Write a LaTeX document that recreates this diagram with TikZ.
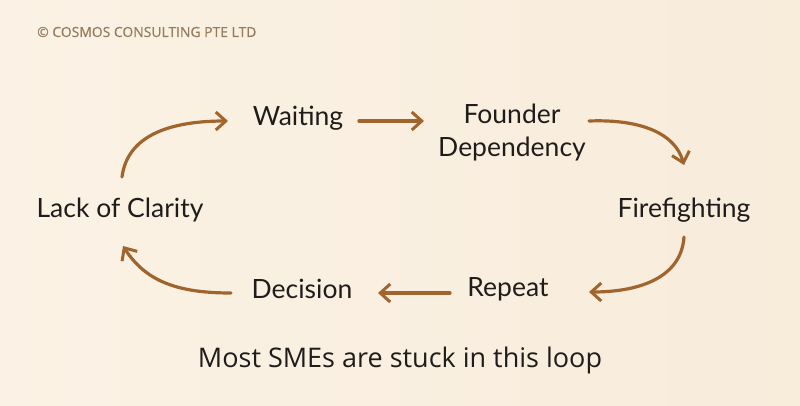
\documentclass[tikz,border=0pt]{standalone}
\usepackage{fontspec}
\setmainfont{Lato}
\newfontfamily\bottomfont{Open Sans}
\newfontfamily\headfont[FakeBold=0.6]{Open Sans}
\usetikzlibrary{arrows.meta}
\definecolor{bgA}{HTML}{FBF2E5}
\definecolor{bgB}{HTML}{F8ECDB}
\definecolor{arr}{HTML}{A0652C}
\definecolor{txt}{HTML}{1F1D1B}
\definecolor{hd}{HTML}{957C5E}
\tikzset{
  lbl/.style={text=txt, font=\fontsize{26.5}{33}\selectfont, inner sep=0pt, align=center},
  flow/.style={draw=arr, line width=3.2pt, line cap=round, -{Straight Barb[length=10pt, width=18pt, line width=3pt]}},
}
\begin{document}
\begin{tikzpicture}[x=1pt, y=-1pt]
\shade[left color=bgA, right color=bgB] (0,0) rectangle (800,405);
\useasboundingbox (0,0) rectangle (800,405);
\node[anchor=west, text=hd, font=\headfont\fontsize{13.9}{16}\selectfont, inner sep=0pt] (hdr) at (37,32) {© COSMOS CONSULTING PTE LTD};
\node[lbl] (wait) at (298,118) {Waiting};
\node[lbl] (found) at (512,133) {Founder\\Dependency};
\node[lbl] (fire) at (684,210) {Firefighting};
\node[lbl] (rep) at (508,289) {Repeat};
\node[lbl] (dec) at (302,289) {Decision};
\node[lbl] (lack) at (120,210) {Lack of Clarity};
\node[text=txt, font=\bottomfont\fontsize{27}{32}\selectfont, inner sep=0pt] (bot) at (400,360) {Most SMEs are stuck in this loop};
\coordinate (a1s) at (122,177);
\coordinate (a1e) at (228,121);
\draw[flow] (a1s) .. controls (127,138) and (165,121) .. (a1e);
\coordinate (a2s) at (359,121);
\coordinate (a2e) at (424,121);
\draw[flow] (a2s) -- (a2e);
\coordinate (a3s) at (589,121);
\coordinate (a3e) at (684,165);
\draw[flow] (a3s) .. controls (640,119) and (675,133) .. (a3e);
\coordinate (a4s) at (684,237);
\coordinate (a4e) at (589,292);
\draw[flow] (a4s) .. controls (681,280) and (635,292) .. (a4e);
\coordinate (a5s) at (450,293);
\coordinate (a5e) at (378,293);
\draw[flow] (a5s) -- (a5e);
\coordinate (a6s) at (231,293);
\coordinate (a6e) at (123,246);
\draw[flow] (a6s) .. controls (175,293) and (145,280) .. (a6e);
\end{tikzpicture}
\end{document}
